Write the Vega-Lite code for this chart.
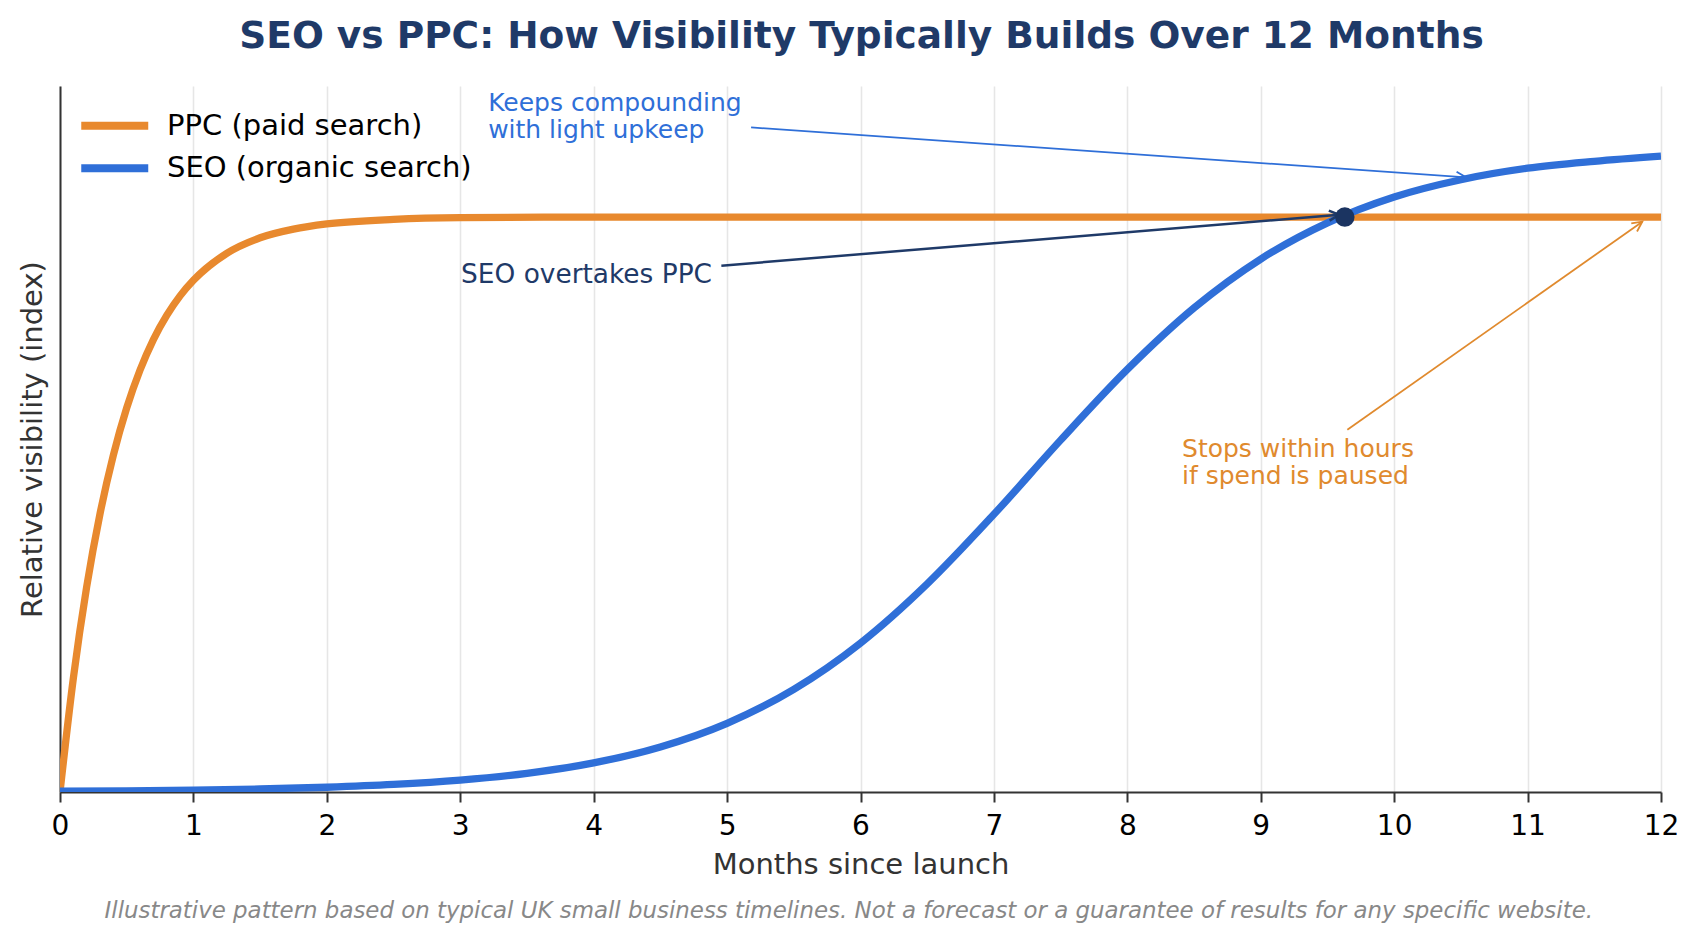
{
  "$schema": "https://vega.github.io/schema/vega-lite/v6.json",
  "width": 1601,
  "height": 706,
  "autosize": {"type": "none"},
  "padding": {"left": 60, "top": 86, "right": 38, "bottom": 152},
  "background": "white",
  "config": {"view": {"stroke": null}, "font": "DejaVu Sans"},
  "title": {
    "text": "SEO vs PPC: How Visibility Typically Builds Over 12 Months",
    "anchor": "middle",
    "frame": "group",
    "font": "DejaVu Sans",
    "fontSize": 37.5,
    "fontWeight": "bold",
    "color": "#1F3A68",
    "baseline": "alphabetic",
    "offset": 0.5,
    "dx": 1
  },
  "datasets": {
    "curves": [
      {"series": "PPC (paid search)", "month": 0, "value": 0},
      {"series": "PPC (paid search)", "month": 0.1, "value": 19.8},
      {"series": "PPC (paid search)", "month": 0.2, "value": 35.7},
      {"series": "PPC (paid search)", "month": 0.3, "value": 48.4},
      {"series": "PPC (paid search)", "month": 0.4, "value": 58.6},
      {"series": "PPC (paid search)", "month": 0.5, "value": 66.8},
      {"series": "PPC (paid search)", "month": 0.6, "value": 73.4},
      {"series": "PPC (paid search)", "month": 0.7, "value": 78.7},
      {"series": "PPC (paid search)", "month": 0.8, "value": 82.9},
      {"series": "PPC (paid search)", "month": 0.9, "value": 86.3},
      {"series": "PPC (paid search)", "month": 1.0, "value": 89.0},
      {"series": "PPC (paid search)", "month": 1.25, "value": 93.7},
      {"series": "PPC (paid search)", "month": 1.5, "value": 96.4},
      {"series": "PPC (paid search)", "month": 1.75, "value": 97.9},
      {"series": "PPC (paid search)", "month": 2.0, "value": 98.8},
      {"series": "PPC (paid search)", "month": 2.5, "value": 99.6},
      {"series": "PPC (paid search)", "month": 3, "value": 99.9},
      {"series": "PPC (paid search)", "month": 4, "value": 100},
      {"series": "PPC (paid search)", "month": 6, "value": 100},
      {"series": "PPC (paid search)", "month": 8, "value": 100},
      {"series": "PPC (paid search)", "month": 10, "value": 100},
      {"series": "PPC (paid search)", "month": 12, "value": 100},
      {"series": "SEO (organic search)", "month": 0, "value": 0.13},
      {"series": "SEO (organic search)", "month": 0.5, "value": 0.21},
      {"series": "SEO (organic search)", "month": 1, "value": 0.33},
      {"series": "SEO (organic search)", "month": 1.5, "value": 0.52},
      {"series": "SEO (organic search)", "month": 2, "value": 0.83},
      {"series": "SEO (organic search)", "month": 2.5, "value": 1.31},
      {"series": "SEO (organic search)", "month": 3, "value": 2.07},
      {"series": "SEO (organic search)", "month": 3.5, "value": 3.25},
      {"series": "SEO (organic search)", "month": 4, "value": 5.07},
      {"series": "SEO (organic search)", "month": 4.5, "value": 7.84},
      {"series": "SEO (organic search)", "month": 5, "value": 11.95},
      {"series": "SEO (organic search)", "month": 5.5, "value": 17.85},
      {"series": "SEO (organic search)", "month": 6, "value": 25.9},
      {"series": "SEO (organic search)", "month": 6.5, "value": 36.2},
      {"series": "SEO (organic search)", "month": 7, "value": 48.3},
      {"series": "SEO (organic search)", "month": 7.5, "value": 61.2},
      {"series": "SEO (organic search)", "month": 8, "value": 73.5},
      {"series": "SEO (organic search)", "month": 8.5, "value": 84.2},
      {"series": "SEO (organic search)", "month": 9, "value": 92.7},
      {"series": "SEO (organic search)", "month": 9.5, "value": 99.0},
      {"series": "SEO (organic search)", "month": 10, "value": 103.5},
      {"series": "SEO (organic search)", "month": 10.5, "value": 106.5},
      {"series": "SEO (organic search)", "month": 11, "value": 108.5},
      {"series": "SEO (organic search)", "month": 11.5, "value": 109.7},
      {"series": "SEO (organic search)", "month": 12, "value": 110.6}
    ],
    "arrows": [
      {"name": "compounding", "month": 5.18, "value": 115.6, "month2": 10.54, "value2": 106.9},
      {"name": "overtakes", "month": 4.957, "value": 91.55, "month2": 9.588, "value2": 100.4},
      {"name": "stops", "month": 9.649, "value": 63.0, "month2": 11.86, "value2": 99.2}
    ],
    "notes": [
      {"name": "compounding", "month": 3.209, "value": 118.5, "text": "Keeps compounding\nwith light upkeep"},
      {"name": "overtakes", "month": 3.006, "value": 88.5, "text": "SEO overtakes PPC"},
      {"name": "stops", "month": 8.41, "value": 58.3, "text": "Stops within hours\nif spend is paused"}
    ],
    "crossing": [{"month": 9.63, "value": 100}],
    "footer": [{"text": "Illustrative pattern based on typical UK small business timelines. Not a forecast or a guarantee of results for any specific website."}]
  },
  "layer": [
    {
      "data": {"name": "curves"},
      "mark": {"type": "line", "strokeWidth": 7.3, "interpolate": "monotone", "clip": true},
      "encoding": {
        "x": {
          "field": "month", "type": "quantitative", "title": "Months since launch",
          "scale": {"domain": [0, 12], "nice": false, "zero": false},
          "axis": {
            "values": [0, 1, 2, 3, 4, 5, 6, 7, 8, 9, 10, 11, 12], "format": "d",
            "grid": true, "gridColor": "#e6e6e6", "gridWidth": 1.6,
            "domainColor": "#333333", "domainWidth": 2,
            "tickColor": "#333333", "tickWidth": 2, "tickSize": 10,
            "labelFont": "DejaVu Sans", "labelFontSize": 28, "labelColor": "#000000",
            "labelPadding": 10, "labelFlush": false, "labelOverlap": false,
            "titleFont": "DejaVu Sans", "titleFontSize": 29, "titleFontWeight": "normal",
            "titleColor": "#333333", "titlePadding": 10
          }
        },
        "y": {
          "field": "value", "type": "quantitative", "title": "Relative visibility (index)",
          "scale": {"domain": [0, 122.8], "nice": false},
          "axis": {
            "labels": false, "ticks": false, "grid": false,
            "domainColor": "#333333", "domainWidth": 2,
            "titleFont": "DejaVu Sans", "titleFontSize": 29, "titleFontWeight": "normal",
            "titleColor": "#333333", "titlePadding": 19, "titleBaseline": "alphabetic"
          }
        },
        "color": {
          "field": "series", "type": "nominal",
          "scale": {"domain": ["PPC (paid search)", "SEO (organic search)"], "range": ["#E8892E", "#2F6FD8"]},
          "legend": {
            "orient": "none", "legendX": 33.75, "legendY": 18.8, "title": null, "padding": 0,
            "symbolType": "M-2,0L2,0", "symbolSize": 1122, "symbolStrokeWidth": 8,
            "labelFont": "DejaVu Sans", "labelFontSize": 29, "labelColor": "#000000",
            "labelLimit": 0, "labelOffset": 31.25, "rowPadding": 5.5
          }
        }
      }
    },
    {
      "data": {"name": "arrows"},
      "transform": [{"filter": "datum.name === 'compounding'"}],
      "layer": [
        {
          "mark": {"type": "rule", "color": "#2F6FD8", "strokeWidth": 1.8},
          "encoding": {
            "x": {"field": "month", "type": "quantitative", "title": "Months since launch"},
            "y": {"field": "value", "type": "quantitative", "title": "Relative visibility (index)"},
            "x2": {"field": "month2"},
            "y2": {"field": "value2"}
          }
        },
        {
          "mark": {"type": "point", "shape": "M-1,-0.5L0,0L-1,0.5", "filled": false, "size": 400, "angle": 4.0, "color": "#2F6FD8", "strokeWidth": 1.8, "opacity": 1},
          "encoding": {
            "x": {"field": "month2", "type": "quantitative", "title": "Months since launch"},
            "y": {"field": "value2", "type": "quantitative", "title": "Relative visibility (index)"}
          }
        }
      ]
    },
    {
      "data": {"name": "arrows"},
      "transform": [{"filter": "datum.name === 'overtakes'"}],
      "layer": [
        {
          "mark": {"type": "rule", "color": "#1F3A68", "strokeWidth": 2.5},
          "encoding": {
            "x": {"field": "month", "type": "quantitative", "title": "Months since launch"},
            "y": {"field": "value", "type": "quantitative", "title": "Relative visibility (index)"},
            "x2": {"field": "month2"},
            "y2": {"field": "value2"}
          }
        },
        {
          "mark": {"type": "point", "shape": "M-1,-0.5L0,0L-1,0.5", "filled": false, "size": 400, "angle": 355.3, "color": "#1F3A68", "strokeWidth": 2.5, "opacity": 1},
          "encoding": {
            "x": {"field": "month2", "type": "quantitative", "title": "Months since launch"},
            "y": {"field": "value2", "type": "quantitative", "title": "Relative visibility (index)"}
          }
        }
      ]
    },
    {
      "data": {"name": "arrows"},
      "transform": [{"filter": "datum.name === 'stops'"}],
      "layer": [
        {
          "mark": {"type": "rule", "color": "#E08A2E", "strokeWidth": 1.8},
          "encoding": {
            "x": {"field": "month", "type": "quantitative", "title": "Months since launch"},
            "y": {"field": "value", "type": "quantitative", "title": "Relative visibility (index)"},
            "x2": {"field": "month2"},
            "y2": {"field": "value2"}
          }
        },
        {
          "mark": {"type": "point", "shape": "M-1,-0.5L0,0L-1,0.5", "filled": false, "size": 400, "angle": 324.8, "color": "#E08A2E", "strokeWidth": 1.8, "opacity": 1},
          "encoding": {
            "x": {"field": "month2", "type": "quantitative", "title": "Months since launch"},
            "y": {"field": "value2", "type": "quantitative", "title": "Relative visibility (index)"}
          }
        }
      ]
    },
    {
      "data": {"name": "crossing"},
      "mark": {"type": "point", "shape": "circle", "filled": true, "size": 380, "color": "#1B3461", "opacity": 1},
      "encoding": {
        "x": {"field": "month", "type": "quantitative", "title": "Months since launch"},
        "y": {"field": "value", "type": "quantitative", "title": "Relative visibility (index)"}
      }
    },
    {
      "data": {"name": "notes"},
      "transform": [{"filter": "datum.name === 'compounding'"}],
      "mark": {"type": "text", "align": "left", "baseline": "alphabetic", "font": "DejaVu Sans", "fontSize": 25, "lineHeight": 27.5, "lineBreak": "\n", "color": "#2F6FD8"},
      "encoding": {
        "x": {"field": "month", "type": "quantitative", "title": "Months since launch"},
        "y": {"field": "value", "type": "quantitative", "title": "Relative visibility (index)"},
        "text": {"field": "text"}
      }
    },
    {
      "data": {"name": "notes"},
      "transform": [{"filter": "datum.name === 'overtakes'"}],
      "mark": {"type": "text", "align": "left", "baseline": "alphabetic", "font": "DejaVu Sans", "fontSize": 26.4, "lineHeight": 27.5, "lineBreak": "\n", "color": "#1F3A68"},
      "encoding": {
        "x": {"field": "month", "type": "quantitative", "title": "Months since launch"},
        "y": {"field": "value", "type": "quantitative", "title": "Relative visibility (index)"},
        "text": {"field": "text"}
      }
    },
    {
      "data": {"name": "notes"},
      "transform": [{"filter": "datum.name === 'stops'"}],
      "mark": {"type": "text", "align": "left", "baseline": "alphabetic", "font": "DejaVu Sans", "fontSize": 25, "lineHeight": 27.5, "lineBreak": "\n", "color": "#E08A2E"},
      "encoding": {
        "x": {"field": "month", "type": "quantitative", "title": "Months since launch"},
        "y": {"field": "value", "type": "quantitative", "title": "Relative visibility (index)"},
        "text": {"field": "text"}
      }
    },
    {
      "data": {"name": "footer"},
      "mark": {"type": "text", "align": "center", "baseline": "alphabetic", "font": "DejaVu Sans", "fontSize": 22.9, "fontStyle": "italic", "color": "#888888"},
      "encoding": {
        "x": {"datum": 5.912, "type": "quantitative"},
        "y": {"datum": -21.87, "type": "quantitative"},
        "text": {"field": "text"}
      }
    }
  ]
}
